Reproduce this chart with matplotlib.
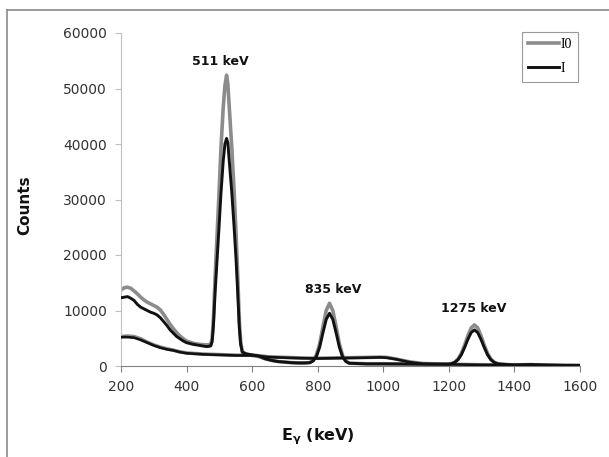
import matplotlib
matplotlib.use('Agg')
import matplotlib.pyplot as plt
from matplotlib.lines import Line2D

# energy grid (keV) shared by the two main spectra
energy = [200, 210, 220, 230, 240, 250, 260, 270, 280, 290, 300, 310, 320, 330, 340,
          350, 360, 370, 380, 390, 400, 420, 440, 460,
          470, 474, 478, 482,
          487, 493, 499, 505, 512, 517, 522, 526, 530, 538, 545, 551, 556, 561, 565, 570,
          580, 600, 620, 640, 660, 680, 700, 720, 740, 760,
          776, 786, 796, 806, 816, 826, 836, 846, 856, 866, 876, 886, 896,
          950, 1000, 1050, 1100, 1150,
          1198, 1208, 1218, 1228, 1238, 1248, 1258, 1268, 1278, 1288, 1298, 1308, 1318,
          1328, 1338, 1348, 1358,
          1380, 1400, 1450, 1500, 1550, 1600]

counts_I0 = [13700, 14100, 14200, 14000, 13500, 13000, 12400, 11900, 11500, 11200, 10900,
             10600, 10100, 9300, 8400, 7500, 6700, 6000, 5400, 4900, 4500, 4100, 3900, 3800,
             3850, 3950, 5000, 8700,
             16000, 23600, 31200, 39400, 46800, 50500, 52400, 50800, 46800,
             39300, 31400, 23800, 16200, 8000, 4400, 2600,
             2200, 1900, 1700, 1300, 1000, 800, 700, 600, 550, 550,
             620, 1000, 2000, 4000, 7100, 10000, 11300, 10000, 7100, 4000, 1900, 900, 500,
             400, 400, 380, 350, 330,
             340, 440, 700, 1260, 2270, 3760, 5450, 6850, 7400, 6850, 5450, 3760, 2270,
             1260, 700, 440, 340,
             250, 200, 250, 150, 100, 80]

counts_I = [12300, 12400, 12500, 12200, 11800, 11100, 10600, 10300, 10000, 9700, 9500,
            9200, 8700, 8000, 7300, 6500, 5900, 5300, 4900, 4500, 4200, 3900, 3700, 3500,
            3550, 3650, 4400, 7300,
            13200, 19100, 25000, 31200, 37100, 40000, 41000, 40200, 37100,
            31200, 25000, 19100, 13200, 6800, 3900, 2500,
            2200, 2000, 1800, 1300, 1000, 800, 700, 600, 550, 550,
            600, 900, 1700, 3400, 6000, 8400, 9500, 8400, 6000, 3400, 1600, 800, 500,
            380, 380, 360, 340, 320,
            340, 420, 650, 1140, 2020, 3320, 4800, 6020, 6500, 6020, 4800, 3320, 2020,
            1140, 650, 420, 340,
            250, 200, 250, 150, 100, 80]

# the lower, flat spectrum (drawn in both series)
energy_bg = [200, 220, 240, 260, 280, 300, 320, 340, 360, 380, 400, 450, 500, 550, 600,
             620, 650, 700, 750, 800, 850, 900, 950, 990, 1010, 1040, 1080, 1120, 1200,
             1300, 1400, 1450, 1500, 1600]
bg_I0 = [5300, 5400, 5300, 4900, 4300, 3800, 3400, 3100, 2850, 2550, 2350, 2150, 2050,
         1950, 1950, 1850, 1650, 1550, 1450, 1400, 1450, 1500, 1550, 1600, 1550, 1250,
         750, 450, 320, 220, 170, 220, 160, 110]
bg_I = [5200, 5200, 5100, 4700, 4200, 3700, 3300, 3000, 2800, 2500, 2300, 2100, 2000,
        1900, 1900, 1800, 1600, 1500, 1400, 1350, 1400, 1450, 1500, 1550, 1500, 1200,
        700, 400, 300, 200, 150, 200, 150, 100]

peak_labels = ['511 keV', '835 keV', '1275 keV']
peak_x = [502, 847, 1277]
peak_y = [54800, 13700, 10400]

fig = plt.figure(figsize=(6.09, 4.57), dpi=100)
ax = fig.add_axes([121/609, 91/457, 459/609, 333/457])

ax.plot(energy_bg, bg_I0, color='#8c8c8c', lw=2.6, zorder=2)
ax.plot(energy_bg, bg_I, color='#111111', lw=1.9, zorder=3)
l0, = ax.plot(energy, counts_I0, color='#8c8c8c', lw=2.6, zorder=2, label='I0')
l1, = ax.plot(energy, counts_I, color='#111111', lw=2.1, zorder=3, label='I')

for txt, x, y in zip(peak_labels, peak_x, peak_y):
    ax.text(x, y, txt, ha='center', va='center', fontsize=9, fontweight='bold', color='#111111')

ax.set_xlim(200, 1600)
ax.set_ylim(0, 60000)
ax.set_xticks(range(200, 1601, 200))
ax.set_yticks(range(0, 60001, 10000))

for s in ['top', 'right']:
    ax.spines[s].set_visible(False)
ax.spines['left'].set_color('#c0c0c0')
ax.spines['bottom'].set_color('#808080')
ax.tick_params(axis='x', direction='out', length=4, color='#808080', labelsize=10,
               labelcolor='#333333', pad=6)
ax.tick_params(axis='y', direction='out', length=4, color='#c0c0c0', labelsize=10,
               labelcolor='#333333', pad=6)

fig.text(25/609, 1 - 205/457, 'Counts', rotation=90, ha='center', va='center',
         fontsize=11, fontweight='bold', color='#111111')
fig.text(318/609, 1 - 437/457, r'E$_{\mathbf{\gamma}}$ (keV)', ha='center', va='center',
         fontsize=11.5, fontweight='bold', color='#111111')

leg = ax.legend(handles=[l0, l1], loc='upper right', bbox_to_anchor=(578/609, 1 - 32/457),
                bbox_transform=fig.transFigure, fancybox=False, edgecolor='#808080',
                prop={'family': 'Liberation Serif', 'size': 10}, handlelength=2.2,
                handletextpad=0.1, borderpad=0.45, labelspacing=0.8, borderaxespad=0)
leg.get_frame().set_linewidth(0.8)

# outer chart frame (only top and left edges visible in the picture)
fig.add_artist(Line2D([7/609, 1], [1 - 9.5/457, 1 - 9.5/457], color='#8a8a8a', lw=1.2,
                      transform=fig.transFigure))
fig.add_artist(Line2D([7/609, 7/609], [0, 1 - 9.5/457], color='#8a8a8a', lw=1.2,
                      transform=fig.transFigure))

fig.savefig('out.png', dpi=100)
